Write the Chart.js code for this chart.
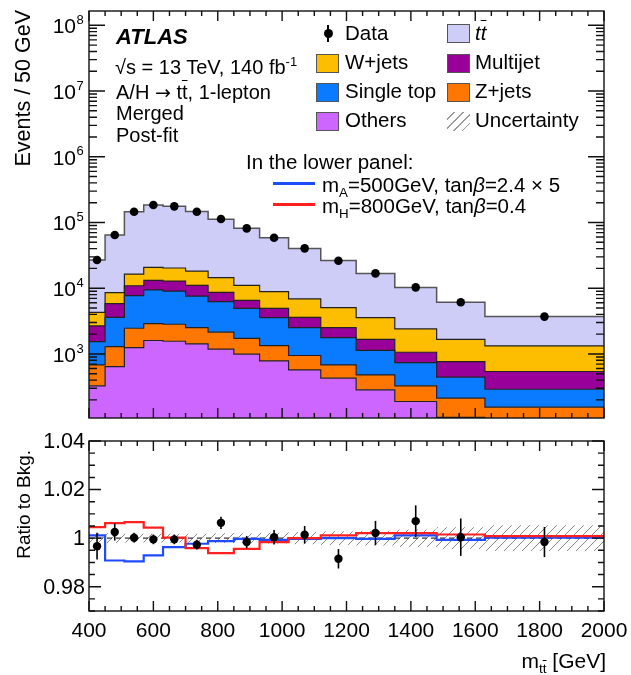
<!DOCTYPE html>
<html lang="en">
<head>
<meta charset="UTF-8">
<title>A/H to ttbar, 1-lepton, merged, post-fit</title>
<script src="https://cdn.jsdelivr.net/npm/chart.js"></script>
<style>
  body { margin: 0; background: #fff; }
  .wrap { position: relative; width: 631px; height: 675px; font-family: "Liberation Sans", Arial, sans-serif; color: #000; overflow: hidden; }
  canvas { position: absolute; left: 0; }
  .t { position: absolute; white-space: nowrap; line-height: 1; }
  .t sup, .t sub { line-height: 0; font-size: 0.65em; }
  .ob { text-decoration: overline; text-decoration-thickness: 1px; }
  .arrow { font-family: "DejaVu Sans", sans-serif; font-size: 0.95em; }
  .lg { font-size: 20.5px; }
  .box { position: absolute; width: 23px; height: 19px; border: 1.5px solid #555; box-sizing: border-box; }
  .seg { position: absolute; height: 2.5px; width: 42px; }
  .rot { position: absolute; transform-origin: 0 0; transform: rotate(-90deg); text-align: right; white-space: nowrap; line-height: 1; }
</style>
</head>
<body>
<div class="wrap">
  <canvas id="mainPanel" width="631" height="425" style="top:0"></canvas>
  <canvas id="ratioPanel" width="631" height="250" style="top:425px"></canvas>

  <div class="t" style="left:116px;top:26px;font-size:22px;font-weight:bold;font-style:italic">ATLAS</div>
  <div class="t" style="left:115px;top:57px;font-size:20px">√s = 13 TeV, 140 fb<sup>-1</sup></div>
  <div class="t" style="left:116px;top:82px;font-size:20px">A/H <span class="arrow">→</span> t<span class="ob">t</span>, 1-lepton</div>
  <div class="t" style="left:116px;top:103px;font-size:20px">Merged</div>
  <div class="t" style="left:116px;top:125px;font-size:20px">Post-fit</div>

  <div style="position:absolute;left:327px;top:25px;width:1.6px;height:17px;background:#000"></div>
  <div style="position:absolute;left:323.5px;top:29px;width:9px;height:9px;border-radius:50%;background:#000"></div>
  <div class="t lg" style="left:345px;top:23px">Data</div>
  <div class="box" style="left:316px;top:53.5px;background:#fdbd00"></div>
  <div class="t lg" style="left:345px;top:52px">W+jets</div>
  <div class="box" style="left:316px;top:82.5px;background:#0a7bfe"></div>
  <div class="t lg" style="left:345px;top:81px">Single top</div>
  <div class="box" style="left:316px;top:111.5px;background:#cc66ff"></div>
  <div class="t lg" style="left:345px;top:110px">Others</div>

  <div class="box" style="left:447px;top:24px;background:#cdcdf8"></div>
  <div class="t lg" style="left:475px;top:23px"><i>t</i><i class="ob">t</i></div>
  <div class="box" style="left:447px;top:53.5px;background:#990099"></div>
  <div class="t lg" style="left:475px;top:52px">Multijet</div>
  <div class="box" style="left:447px;top:82.5px;background:#ff7700"></div>
  <div class="t lg" style="left:475px;top:81px">Z+jets</div>
  <div class="box" style="left:447px;top:111.5px;border:none;background:repeating-linear-gradient(-45deg, transparent 0 5px, #999 5px 6.2px)"></div>
  <div class="t lg" style="left:475px;top:110px">Uncertainty</div>

  <div class="t lg" style="left:246px;top:151.5px">In the lower panel:</div>
  <div class="seg" style="left:273px;top:182px;background:#1f4bff"></div>
  <div class="t lg" style="left:322px;top:175px">m<sub>A</sub>=500GeV, tan<i>β</i>=2.4 × 5</div>
  <div class="seg" style="left:273px;top:203px;background:#ff2020"></div>
  <div class="t lg" style="left:322px;top:196px">m<sub>H</sub>=800GeV, tan<i>β</i>=0.4</div>

  <div class="rot" style="left:12.5px;top:210px;width:200px;font-size:21.5px">Events / 50 GeV</div>
  <div class="rot" style="left:14px;top:650px;width:200px;font-size:19px">Ratio to Bkg.</div>
  <div class="t" style="right:25px;top:650px;font-size:21px">m<sub>t<span class="ob">t</span></sub> [GeV]</div>
</div>

<script>
// bin edges of the m_tt distribution (GeV)
const edges = [400, 450, 510, 570, 630, 700, 770, 850, 930, 1020, 1120, 1230, 1350, 1480, 1630, 2000];

// upper panel: events / 50 GeV
const dataEvents = [26800, 64400, 146000, 184000, 176000, 146000, 113000, 81300, 58700, 40400, 26200, 16800, 10300, 6100, 3700];
const others   = [327, 643, 1250, 1600, 1560, 1420, 1180, 990, 784, 571, 428, 284, 189, 108, 80];
const zjets    = [354, 652, 1210, 1300, 1270, 1100, 960, 740, 556, 375, 253, 196, 138, 104, 75];
const singleTop = [859, 2315, 5260, 6500, 6230, 5080, 4110, 3220, 2230, 1574, 1089, 650, 413, 231, 135];
const multijet = [1130, 2220, 3180, 3800, 3790, 3470, 2420, 1600, 1380, 1090, 750, 540, 320, 323, 250];
const wjets    = [1630, 2740, 5500, 7600, 7450, 7130, 5830, 4520, 3920, 3250, 2550, 1900, 1340, 904, 785];
const ttbar    = [22600, 55700, 129600, 163300, 155800, 128200, 97800, 70400, 49800, 33500, 21400, 13200, 7830, 4430, 2380];

// lower panel: ratio to background
const ratioData = [0.9967, 1.0025, 1.0002, 0.9995, 0.9995, 0.9973, 1.0063, 0.9984, 1.0004, 1.0014, 0.9915, 1.0021, 1.007, 1.0004, 0.9984];
const ratioErr  = [0.0055, 0.0035, 0.002, 0.002, 0.002, 0.002, 0.0025, 0.0025, 0.003, 0.0036, 0.004, 0.005, 0.0065, 0.0077, 0.0062];
const bkgUnc    = [0.002, 0.002, 0.0018, 0.0018, 0.0018, 0.0018, 0.002, 0.002, 0.0022, 0.0025, 0.0028, 0.003, 0.0036, 0.0045, 0.0053];
const sigA500   = [1.0011, 0.9908, 0.9904, 0.9929, 0.9963, 0.9977, 0.9988, 0.9997, 0.9993, 0.9997, 1.0, 0.9997, 1.0011, 0.9993, 1.0002];
const sigH800   = [1.0045, 1.0062, 1.0066, 1.0043, 1.0002, 0.9959, 0.9938, 0.9956, 0.9984, 1.0, 1.0011, 1.0021, 1.0021, 1.0015, 1.0008];

// tick labels
const xTickLabels = ['400', '600', '800', '1000', '1200', '1400', '1600', '1800', '2000'];
const logTickExps = [3, 4, 5, 6, 7, 8];
const ratioTickLabels = ['0.98', '1', '1.02', '1.04'];

const FONT = '"Liberation Sans", Arial, sans-serif';
const centers = edges.slice(0, -1).map((e, i) => (e + edges[i + 1]) / 2);
const steps = vals => edges.map((e, i) => ({ x: e, y: vals[Math.min(i, vals.length - 1)] }));
const points = vals => vals.map((v, i) => ({ x: centers[i], y: v }));

function hatchPattern() {
  const c = document.createElement('canvas');
  c.width = 9; c.height = 9;
  const g = c.getContext('2d');
  g.strokeStyle = '#888';
  g.lineWidth = 1;
  g.beginPath();
  g.moveTo(0, 9); g.lineTo(9, 0);
  g.moveTo(-3, 3); g.lineTo(3, -3);
  g.moveTo(6, 12); g.lineTo(12, 6);
  g.stroke();
  return g.createPattern(c, 'repeat');
}

// frame with ROOT-style inward ticks, plus tick labels
const frame = {
  id: 'frame',
  afterDraw(chart, args, opt) {
    const { ctx, chartArea: a, scales: { x, y } } = chart;
    ctx.save();
    ctx.strokeStyle = '#111';
    ctx.lineWidth = 1.4;
    ctx.beginPath();
    for (let v = 400; v <= 2000; v += 50) {
      const px = x.getPixelForValue(v);
      const len = v % 200 === 0 ? opt.xMajor : opt.xMinor;
      ctx.moveTo(px, a.bottom); ctx.lineTo(px, a.bottom - len);
      ctx.moveTo(px, a.top); ctx.lineTo(px, a.top + len);
    }
    opt.yTicks.forEach(([v, major]) => {
      const py = y.getPixelForValue(v);
      if (py < a.top - 0.5 || py > a.bottom + 0.5) return;
      const len = major ? opt.yMajor : opt.yMinor;
      ctx.moveTo(a.left, py); ctx.lineTo(a.left + len, py);
      ctx.moveTo(a.right, py); ctx.lineTo(a.right - len, py);
    });
    ctx.stroke();
    ctx.strokeRect(a.left, a.top, a.right - a.left, a.bottom - a.top);
    ctx.fillStyle = '#000';
    opt.labels(ctx, chart);
    ctx.restore();
  }
};

const errorBars = {
  id: 'errorBars',
  afterDatasetsDraw(chart) {
    const { ctx, scales: { y } } = chart;
    chart.data.datasets.forEach((ds, i) => {
      if (!ds.yErr) return;
      ctx.save();
      ctx.strokeStyle = '#000';
      ctx.lineWidth = 1.6;
      chart.getDatasetMeta(i).data.forEach((pt, j) => {
        const v = ds.data[j].y;
        ctx.beginPath();
        ctx.moveTo(pt.x, y.getPixelForValue(v + ds.yErr[j]));
        ctx.lineTo(pt.x, y.getPixelForValue(v - ds.yErr[j]));
        ctx.stroke();
      });
      ctx.restore();
    });
  }
};

const layer = (vals, color, fill) => ({
  data: steps(vals), stepped: true, fill: fill, backgroundColor: color,
  borderColor: '#222', borderWidth: 1.2, pointRadius: 0, order: 1
});

const logTicks = [];
for (let e = 2; e <= 8; e++) for (let m = 1; m <= 9; m++) logTicks.push([m * Math.pow(10, e), m === 1]);

new Chart(document.getElementById('mainPanel'), {
  type: 'line',
  data: {
    datasets: [
      layer(others, '#cc66ff', 'start'),
      layer(zjets, '#ff7700', '-1'),
      layer(singleTop, '#0a7bfe', '-1'),
      layer(multijet, '#990099', '-1'),
      layer(wjets, '#fdbd00', '-1'),
      Object.assign(layer(ttbar, '#cdcdf8', '-1'), { borderColor: '#555', borderWidth: 1.5 }),
      {
        data: points(dataEvents), stack: 'data', showLine: false, order: 0,
        pointRadius: 4.3, pointBackgroundColor: '#000', pointBorderWidth: 0
      }
    ]
  },
  options: {
    responsive: false,
    animation: false,
    layout: { padding: { left: 89, right: 27, top: 11, bottom: 7 } },
    scales: {
      x: { type: 'linear', min: 400, max: 2000, display: false },
      y: { type: 'logarithmic', min: 106, max: 1.65e8, stacked: true, display: false }
    },
    plugins: {
      legend: { display: false },
      tooltip: { enabled: false },
      frame: {
        xMajor: 10, xMinor: 5, yMajor: 16, yMinor: 8, yTicks: logTicks,
        labels(ctx, chart) {
          const y = chart.scales.y;
          logTickExps.forEach(e => {
            const py = y.getPixelForValue(Math.pow(10, e));
            ctx.textAlign = 'right';
            ctx.textBaseline = 'middle';
            ctx.font = '21px ' + FONT;
            ctx.fillText('10', 76, py + 2);
            ctx.textAlign = 'left';
            ctx.font = '13px ' + FONT;
            ctx.fillText(String(e), 76.5, py - 5);
          });
        }
      }
    }
  },
  plugins: [frame]
});

const ratioTicks = [];
for (let k = 194; k <= 208; k++) ratioTicks.push([k / 200, k % 4 === 0]);

new Chart(document.getElementById('ratioPanel'), {
  type: 'line',
  data: {
    datasets: [
      {
        data: steps(bkgUnc.map(u => 1 + u)), stepped: true, fill: '+1',
        backgroundColor: hatchPattern(), borderWidth: 0, pointRadius: 0, order: 5
      },
      { data: steps(bkgUnc.map(u => 1 - u)), stepped: true, borderWidth: 0, pointRadius: 0, order: 5 },
      {
        data: [{ x: 400, y: 1 }, { x: 2000, y: 1 }], borderColor: '#333', borderWidth: 1.2,
        borderDash: [5, 4], pointRadius: 0, order: 4
      },
      { data: steps(sigA500), stepped: true, borderColor: '#1f4bff', borderWidth: 2.2, pointRadius: 0, order: 3 },
      { data: steps(sigH800), stepped: true, borderColor: '#ff2020', borderWidth: 2.2, pointRadius: 0, order: 2 },
      {
        data: points(ratioData), yErr: ratioErr, showLine: false, order: 1,
        pointRadius: 4.2, pointBackgroundColor: '#000', pointBorderWidth: 0
      }
    ]
  },
  options: {
    responsive: false,
    animation: false,
    layout: { padding: { left: 89, right: 27, top: 16, bottom: 64 } },
    scales: {
      x: { type: 'linear', min: 400, max: 2000, display: false },
      y: { type: 'linear', min: 0.97, max: 1.04, display: false }
    },
    plugins: {
      legend: { display: false },
      tooltip: { enabled: false },
      frame: {
        xMajor: 10, xMinor: 5, yMajor: 12, yMinor: 6, yTicks: ratioTicks,
        labels(ctx, chart) {
          const { x, y } = chart.scales;
          ctx.font = '21.5px ' + FONT;
          ctx.textAlign = 'right';
          ctx.textBaseline = 'middle';
          ratioTickLabels.forEach(s => ctx.fillText(s, 85, y.getPixelForValue(Number(s)) + 1));
          ctx.font = '21px ' + FONT;
          ctx.textAlign = 'center';
          ctx.textBaseline = 'alphabetic';
          xTickLabels.forEach(s => ctx.fillText(s, x.getPixelForValue(Number(s)), chart.chartArea.bottom + 26));
        }
      }
    }
  },
  plugins: [frame, errorBars]
});
</script>
</body>
</html>
